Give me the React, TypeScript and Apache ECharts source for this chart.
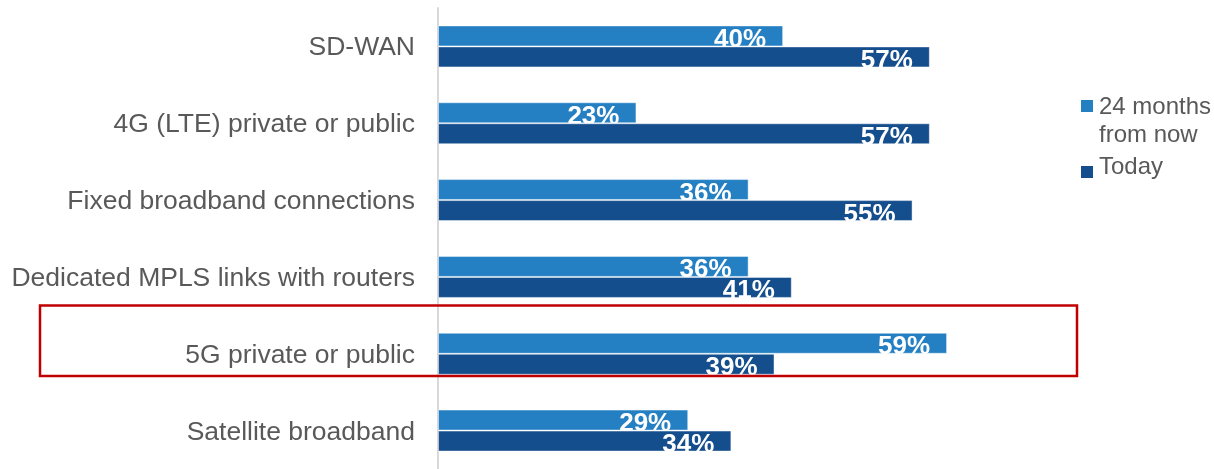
import React, { useEffect, useRef } from "react";
import * as echarts from "echarts";

const categories = [
  "SD-WAN",
  "4G (LTE) private or public",
  "Fixed broadband connections",
  "Dedicated MPLS links with routers",
  "5G private or public",
  "Satellite broadband",
];
const future24 = [40, 23, 36, 36, 59, 29];
const today = [57, 57, 55, 41, 39, 34];
const seriesNames = ["24 months from now", "Today"];
const legendLabels = ["24 months\nfrom now", "Today"];

const LIGHT = "#2580C3";
const DARK = "#154E8D";
const FONT = "Liberation Sans";

export default function App() {
  const ref = useRef<HTMLDivElement>(null);
  useEffect(() => {
    if (!ref.current) return;
    const chart = echarts.init(ref.current, undefined, { renderer: "svg" });
    const label = {
      show: true,
      position: "insideRight",
      distance: 17,
      offset: [0, 2],
      color: "#ffffff",
      fontWeight: "bold",
      fontSize: 26,
      fontFamily: FONT,
      formatter: "{c}%",
    };
    chart.setOption({
      animation: false,
      grid: { left: 438, top: 8, width: 604, height: 468, containLabel: false },
      xAxis: { type: "value", min: 0, max: 70, show: false },
      yAxis: {
        type: "category",
        data: categories,
        inverse: true,
        axisLine: { show: true, lineStyle: { color: "#D9D9D9", width: 2 } },
        axisTick: { show: false },
        axisLabel: { color: "#595959", fontSize: 26.5, fontFamily: FONT, margin: 23 },
        splitLine: { show: false },
      },
      series: [
        {
          name: seriesNames[0],
          type: "bar",
          data: future24,
          barWidth: 21,
          barGap: "0%",
          z: 2,
          itemStyle: { color: LIGHT, borderColor: "rgba(255,255,255,0.45)", borderWidth: 1 },
          label,
        },
        {
          name: seriesNames[1],
          type: "bar",
          data: today,
          barWidth: 21,
          barGap: "0%",
          z: 3,
          itemStyle: { color: DARK, borderColor: "rgba(255,255,255,0.45)", borderWidth: 1 },
          label,
        },
      ],
      graphic: [
        {
          type: "rect",
          shape: { x: 40, y: 305.5, width: 1037, height: 70.5 },
          style: { fill: "none", stroke: "#C00000", lineWidth: 2.5 },
          z: 100,
        },
        { type: "rect", shape: { x: 1081, y: 100, width: 12, height: 12 }, style: { fill: LIGHT }, z: 100 },
        {
          type: "text",
          x: 1099,
          y: 119.5,
          style: {
            text: legendLabels[0],
            fill: "#595959",
            font: `24px ${FONT}`,
            lineHeight: 27.6,
            verticalAlign: "middle",
          },
          z: 100,
        },
        { type: "rect", shape: { x: 1081, y: 166, width: 12, height: 12 }, style: { fill: DARK }, z: 100 },
        {
          type: "text",
          x: 1099,
          y: 165.7,
          style: {
            text: legendLabels[1],
            fill: "#595959",
            font: `24px ${FONT}`,
            verticalAlign: "middle",
          },
          z: 100,
        },
      ],
    });
    return () => chart.dispose();
  }, []);
  return <div ref={ref} style={{ position: "fixed", left: 0, top: 0, width: 1214, height: 469 }} />;
}
